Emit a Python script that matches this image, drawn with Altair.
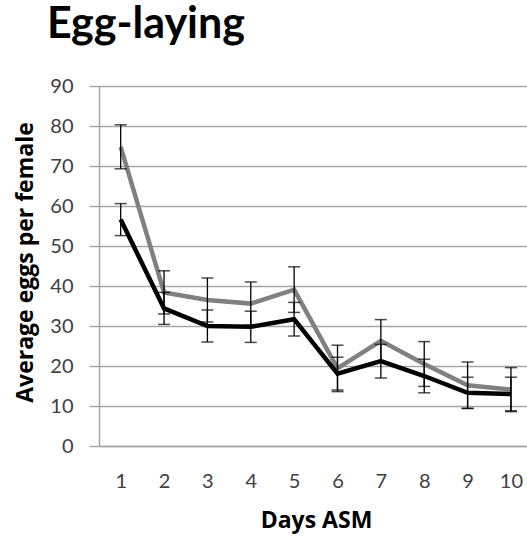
import altair as alt
import pandas as pd

days = [1, 2, 3, 4, 5, 6, 7, 8, 9, 10]
upper_mean = [74.8, 38.4, 36.5, 35.6, 39.1, 19.4, 26.3, 20.5, 15.2, 14.1]
upper_err = [5.5, 5.4, 5.5, 5.4, 5.7, 5.8, 5.3, 5.6, 5.8, 5.5]
lower_mean = [56.6, 34.4, 30.0, 29.8, 31.7, 18.1, 21.2, 17.5, 13.3, 13.0]
lower_err = [4.0, 4.0, 4.0, 3.9, 4.2, 4.1, 4.2, 4.2, 3.9, 4.2]
y_ticks = [0, 10, 20, 30, 40, 50, 60, 70, 80, 90]

rows = []
for s, m, e in (("upper", upper_mean, upper_err), ("lower", lower_mean, lower_err)):
    for d, v, er in zip(days, m, e):
        rows.append({"day": d, "series": s, "mean": v, "lo": v - er, "hi": v + er})
df = pd.DataFrame(rows)

GRID = "#a6a6a6"
LABEL = "#404040"

x_scale = alt.Scale(domain=[0.5, 10.37], nice=False, zero=False)
x_axis = alt.Axis(values=days, title="Days ASM", grid=False, ticks=False,
                  labelOverlap=False,
                  domainColor=GRID, domainWidth=1.5,
                  labelFont="Lato", labelFontSize=20, labelColor=LABEL,
                  labelBaseline="alphabetic", labelPadding=41,
                  titleFont="Open Sans", titleFontSize=23, titleFontWeight="bold",
                  titleColor="black", titleX=217, titleY=81,
                  titleBaseline="alphabetic", titleAlign="center")
y_scale = alt.Scale(domain=[0, 90], nice=False)
y_axis = alt.Axis(values=y_ticks, title="Average eggs per female",
                  labelOverlap=False,
                  grid=True, gridColor=GRID, gridWidth=1.5,
                  tickSize=10, tickColor=GRID, tickWidth=1.5,
                  domainColor=GRID, domainWidth=1.5,
                  labelFont="Lato", labelFontSize=20, labelColor=LABEL,
                  labelPadding=16,
                  titleFont="Open Sans", titleFontSize=23, titleFontWeight="bold",
                  titleColor="black", titleAngle=-90, titleX=-67, titleY=176,
                  titleBaseline="alphabetic", titleAlign="center")


def X():
    return alt.X("day:Q", scale=x_scale, axis=x_axis)


def Y(field):
    return alt.Y(f"{field}:Q", scale=y_scale, axis=y_axis)


base = alt.Chart(df)

line_upper = base.transform_filter(alt.datum.series == "upper").mark_line(
    color="#808080", strokeWidth=4.5, clip=True).encode(x=X(), y=Y("mean"))
line_lower = base.transform_filter(alt.datum.series == "lower").mark_line(
    color="#000000", strokeWidth=4.5, clip=True).encode(x=X(), y=Y("mean"))

err = base.mark_rule(color="black", strokeWidth=1.3).encode(
    x=X(), y=Y("lo"), y2="hi:Q")
cap_hi = base.mark_tick(color="black", orient="horizontal", size=12, thickness=1.5).encode(
    x=X(), y=Y("hi"))
cap_lo = base.mark_tick(color="black", orient="horizontal", size=12, thickness=1.5).encode(
    x=X(), y=Y("lo"))

chart = alt.layer(line_upper, line_lower, err, cap_hi, cap_lo).properties(
    width=428, height=360,
    title=alt.TitleParams("Egg-laying", anchor="start", frame="group",
                          font="Lato", fontSize=43, fontWeight="bold", color="black",
                          dx=-52, dy=8, offset=3, baseline="alphabetic"),
    autosize=alt.AutoSizeParams(type="none"),
    padding={"left": 99, "top": 86, "right": 0, "bottom": 92},
).configure_view(stroke=None).configure(background="white")

chart.save("out.html", embed_options={"renderer": "svg", "actions": False})
